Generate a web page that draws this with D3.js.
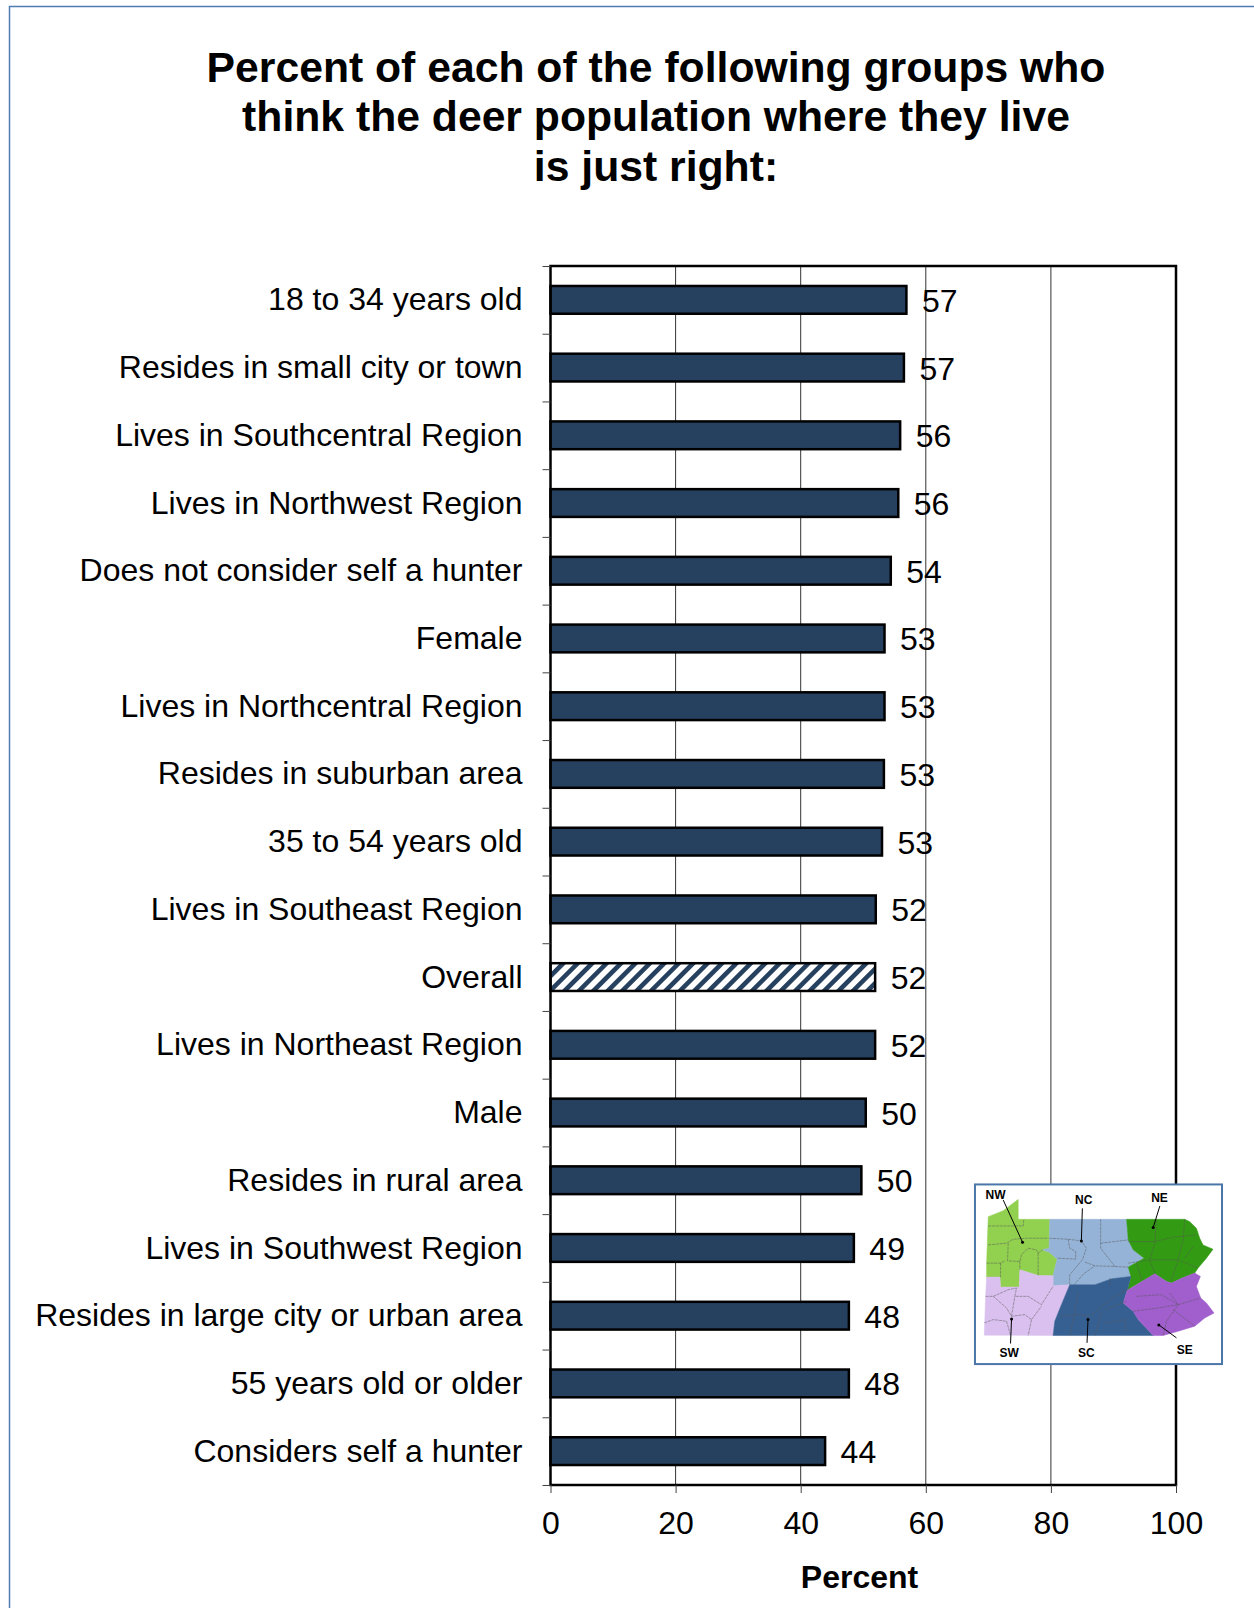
<!DOCTYPE html>
<html>
<head>
<meta charset="utf-8">
<script src="https://cdn.jsdelivr.net/npm/d3@7"></script>
<style>
  html, body { margin: 0; padding: 0; background: #fff; }
  svg { display: block; }
  text { font-family: "Liberation Sans", Arial, sans-serif; fill: #000; }
</style>
</head>
<body>
<div class="chart"></div>
<script>
var categories = [
  "18 to 34 years old", "Resides in small city or town", "Lives in Southcentral Region",
  "Lives in Northwest Region", "Does not consider self a hunter", "Female",
  "Lives in Northcentral Region", "Resides in suburban area", "35 to 54 years old",
  "Lives in Southeast Region", "Overall", "Lives in Northeast Region", "Male",
  "Resides in rural area", "Lives in Southwest Region", "Resides in large city or urban area",
  "55 years old or older", "Considers self a hunter"
];
// bar lengths as drawn (unrounded) and the rounded labels printed next to them
var barValues = [56.9, 56.5, 55.9, 55.6, 54.4, 53.4, 53.4, 53.3, 53.0, 52.0, 51.9, 51.9, 50.4, 49.7, 48.5, 47.7, 47.7, 43.9];
var barLabels = [57, 57, 56, 56, 54, 53, 53, 53, 53, 52, 52, 52, 50, 50, 49, 48, 48, 44];
var xTicks = [0, 20, 40, 60, 80, 100];
var titleLines = ["Percent of each of the following groups who", "think the deer population where they live", "is just right:"];

// inset map of the regions, outlines in map units
var regionNames = ["NW", "NC", "NE", "SW", "SC", "SE"];
var regionColors = ["#92d050", "#95b3d7", "#339a14", "#d9c0ee", "#376092", "#a05fcc"];
var regionOutlines = [
  [[82,139],[127,121],[172,87],[172,147],[267,147],[265,234],[245,239],[267,247],[289,267],[277,317],[232,316],[177,299],[175,351],[119,351],[117,321],[77,321],[77,279]],
  [[267,147],[498,147],[503,209],[518,239],[551,264],[503,291],[511,319],[453,326],[403,344],[327,344],[277,347],[277,317],[289,267],[267,247],[245,239],[265,234]],
  [[498,147],[673,147],[688,154],[708,174],[718,204],[728,224],[758,237],[738,264],[713,294],[703,309],[665,324],[633,339],[618,334],[583,311],[553,329],[518,349],[500,361],[511,319],[503,291],[551,264],[518,239],[503,209]],
  [[77,321],[117,321],[119,351],[175,351],[177,299],[232,316],[277,317],[277,347],[327,344],[302,404],[282,454],[277,497],[70,496],[74,379]],
  [[327,344],[403,344],[453,326],[511,319],[500,361],[488,399],[518,424],[533,449],[578,497],[277,497],[282,454],[302,404]],
  [[500,361],[553,329],[583,311],[618,334],[633,339],[665,324],[703,309],[720,319],[708,349],[721,384],[738,399],[761,429],[733,444],[703,469],[653,484],[608,497],[578,497],[533,449],[518,424],[488,399]]
];
var countyLines = [
  [[82,167],[187,167],[189,147]], [[82,224],[137,219],[157,207],[197,204],[262,204]], [[142,219],[140,272],[177,274],[182,254],[202,234]],
  [[77,279],[119,279],[132,272]], [[119,279],[119,321]], [[232,249],[232,316]], [[202,234],[227,239],[232,249],[245,239]], [[177,274],[177,299]],
  [[265,204],[322,207],[362,212],[377,234],[365,269],[327,314],[327,344]], [[322,207],[327,234],[345,244],[345,267],[289,264]],
  [[420,147],[420,234],[463,289],[403,287],[370,275]], [[420,219],[503,209]], [[463,289],[503,291]], [[340,344],[370,310],[403,287]],
  [[503,214],[583,214],[638,201],[708,194]], [[588,147],[583,219],[568,269],[583,311]], [[673,147],[668,209],[653,269],[633,329]],
  [[503,279],[568,269],[653,269],[713,294]], [[528,279],[543,329]], [[698,229],[673,264]],
  [[528,379],[603,374],[653,404],[618,454],[608,497]], [[518,424],[593,414],[653,404]], [[653,404],[721,384]], [[638,419],[703,469]], [[628,369],[653,404]],
  [[352,364],[342,429],[327,497]], [[297,439],[357,434],[387,439],[417,414]], [[418,414],[463,379],[508,354]], [[433,419],[498,394]],
  [[433,459],[493,449],[498,484]], [[423,424],[403,497]], [[448,324],[448,349]],
  [[74,379],[97,379],[142,359],[167,354],[162,379],[202,379],[242,404],[277,349]], [[97,379],[137,414],[152,439],[192,434],[212,449],[202,497]],
  [[70,459],[97,449],[137,454],[149,496]], [[212,449],[242,409]], [[152,439],[162,379]]
];
var mapTags = ["NW", "NC", "NE", "SW", "SC", "SE"];
var tagPositions = [[104,75],[369,89],[597,82],[145,549],[377,549],[673,541]];
var leaders = [
  [[127,89],[185,216]], [[365,114],[362,212]], [[598,107],[578,172]],
  [[149,521],[152,447]], [[379,519],[382,449]], [[648,504],[595,465]]
];

var svgWidth = 1254;
var svgHeight = 1608;
var margin = { top: 266, right: 78, bottom: 123, left: 550.5 };
var width = svgWidth - margin.left - margin.right;
var height = svgHeight - margin.top - margin.bottom;
var navy = "#26405f";

var svg = d3.select(".chart")
  .append("svg")
  .attr("width", svgWidth)
  .attr("height", svgHeight);

// hatch for the Overall bar
var hatch = svg.append("defs").append("pattern")
  .attr("id", "hatch")
  .attr("patternUnits", "userSpaceOnUse")
  .attr("width", 10.2)
  .attr("height", 10.2)
  .attr("patternTransform", "rotate(45)");
hatch.append("rect").attr("width", 10.2).attr("height", 10.2).attr("fill", "#fff");
hatch.append("rect").attr("width", 4.6).attr("height", 10.2).attr("fill", navy);

// page frame, open on the right and at the bottom
svg.append("path")
  .attr("d", "M9.5,1608V6.5H1254")
  .attr("fill", "none")
  .attr("stroke", "#4f7cb3")
  .attr("stroke-width", 1.5);

svg.selectAll(".title")
  .data(titleLines)
  .enter().append("text")
  .attr("class", "title")
  .attr("x", 656)
  .attr("y", function(d, i) { return 82 + i * 49.4; })
  .attr("text-anchor", "middle")
  .attr("font-size", 42.7)
  .attr("font-weight", "bold")
  .text(function(d) { return d; });

var chart = svg.append("g")
  .attr("transform", "translate(" + margin.left + "," + margin.top + ")");

var xScale = d3.scaleLinear().domain([0, 100]).range([0, width]);
var yScale = d3.scaleBand().domain(categories).range([0, height]).paddingInner(0.59).paddingOuter(0.295);
var yTickScale = d3.scaleLinear().domain([0, categories.length]).range([0, height]);

// vertical gridlines
chart.selectAll(".grid")
  .data(xTicks.slice(1, -1))
  .enter().append("line")
  .attr("class", "grid")
  .attr("x1", xScale)
  .attr("x2", xScale)
  .attr("y1", 0)
  .attr("y2", height)
  .attr("stroke", "#333")
  .attr("stroke-width", 1);

chart.selectAll(".bar")
  .data(categories)
  .enter().append("rect")
  .attr("class", "bar")
  .attr("x", 0)
  .attr("y", function(d) { return yScale(d); })
  .attr("width", function(d, i) { return xScale(barValues[i]); })
  .attr("height", yScale.bandwidth())
  .attr("fill", function(d) { return d === "Overall" ? "url(#hatch)" : navy; })
  .attr("stroke", "#000")
  .attr("stroke-width", 2.5);

chart.selectAll(".value")
  .data(categories)
  .enter().append("text")
  .attr("class", "value")
  .attr("x", function(d, i) { return xScale(barValues[i]) + 15.5; })
  .attr("y", function(d) { return yScale(d) + yScale.bandwidth() / 2 + 12; })
  .attr("font-size", 32)
  .text(function(d, i) { return barLabels[i]; });

// plot frame
chart.append("rect")
  .attr("width", width)
  .attr("height", height)
  .attr("fill", "none")
  .attr("stroke", "#000")
  .attr("stroke-width", 2.5);

var xAxis = chart.append("g")
  .attr("transform", "translate(0," + height + ")")
  .call(d3.axisBottom(xScale).tickValues(xTicks).tickSize(8).tickPadding(18));
xAxis.select(".domain").remove();
xAxis.selectAll("line").attr("stroke", "#444");
xAxis.selectAll("text").attr("font-size", 32).attr("font-family", "Liberation Sans").attr("fill", "#000");

var leftTicks = chart.append("g")
  .call(d3.axisLeft(yTickScale).tickValues(d3.range(categories.length + 1)).tickSize(8).tickFormat(""));
leftTicks.select(".domain").remove();
leftTicks.selectAll("line").attr("stroke", "#444");

var leftLabels = chart.append("g")
  .call(d3.axisLeft(yScale).tickSize(0).tickPadding(28));
leftLabels.select(".domain").remove();
leftLabels.selectAll("text").attr("font-size", 32).attr("font-family", "Liberation Sans").attr("fill", "#000").attr("dy", "0.33em");

chart.append("text")
  .attr("x", xScale(49.4))
  .attr("y", height + 103)
  .attr("text-anchor", "middle")
  .attr("font-size", 32)
  .attr("font-weight", "bold")
  .text("Percent");

// inset map, map units to page pixels
var mapX = d3.scaleLinear().domain([0, 800]).range([961, 1227]);
var mapY = d3.scaleLinear().domain([0, 593]).range([1170.5, 1367.4]);
var mapLine = d3.line().x(function(d) { return mapX(d[0]); }).y(function(d) { return mapY(d[1]); });

var inset = svg.append("g");
inset.append("rect")
  .attr("x", mapX(42))
  .attr("y", mapY(42))
  .attr("width", mapX(785) - mapX(42))
  .attr("height", mapY(583) - mapY(42))
  .attr("fill", "#fff")
  .attr("stroke", "#4a76a8")
  .attr("stroke-width", 2);

inset.selectAll(".region")
  .data(regionNames)
  .enter().append("path")
  .attr("class", "region")
  .attr("d", function(d, i) { return mapLine(regionOutlines[i]) + "Z"; })
  .attr("fill", function(d, i) { return regionColors[i]; })
  .attr("stroke", function(d, i) { return regionColors[i]; })
  .attr("stroke-width", 0.5);

inset.selectAll(".county")
  .data(countyLines)
  .enter().append("path")
  .attr("class", "county")
  .attr("d", mapLine)
  .attr("fill", "none")
  .attr("stroke", "#555")
  .attr("stroke-opacity", 0.7)
  .attr("stroke-dasharray", "3,0.8")
  .attr("stroke-width", 0.7);

inset.selectAll(".leader")
  .data(leaders)
  .enter().append("path")
  .attr("class", "leader")
  .attr("d", mapLine)
  .attr("fill", "none")
  .attr("stroke", "#000")
  .attr("stroke-width", 1);

inset.selectAll(".leaderDot")
  .data(leaders)
  .enter().append("circle")
  .attr("class", "leaderDot")
  .attr("cx", function(d) { return mapX(d[1][0]); })
  .attr("cy", function(d) { return mapY(d[1][1]); })
  .attr("r", 1.5)
  .attr("fill", "#000");

inset.selectAll(".tag")
  .data(mapTags)
  .enter().append("text")
  .attr("class", "tag")
  .attr("x", function(d, i) { return mapX(tagPositions[i][0]); })
  .attr("y", function(d, i) { return mapY(tagPositions[i][1]) + 4; })
  .attr("text-anchor", "middle")
  .attr("font-size", 12)
  .attr("font-weight", "bold")
  .text(function(d) { return d; });
</script>
</body>
</html>
